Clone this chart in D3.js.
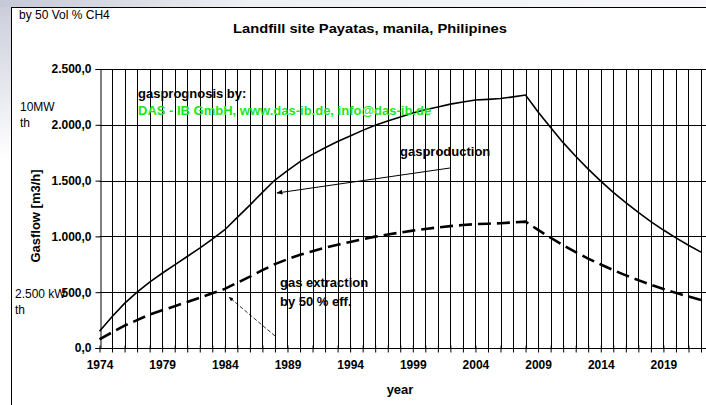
<!DOCTYPE html>
<html><head><meta charset="utf-8">
<script src="https://cdn.jsdelivr.net/npm/d3@7"></script>
<style>body{margin:0;background:#fff;}svg{display:block;font-family:"Liberation Sans",Arial,sans-serif;}</style>
</head><body>
<svg id="c" width="706" height="405"></svg>
<script>
const years = d3.range(1974, 2023);
const gasproduction = [150,280,400,500,590,670,745,820,895,975,
  1060,1170,1280,1395,1505,1590,1670,1735,1795,1850,
  1900,1950,1995,2035,2070,2105,2135,2160,2185,2205,
  2222,2228,2235,2250,2267,2115,1975,1840,1718,1603,
  1495,1395,1302,1215,1133,1057,987,921,859];
const gasextraction = [78,140,200,250,300,338,375,412,450,490,
  530,585,640,697,752,795,835,868,898,925,
  950,975,998,1017,1035,1052,1067,1080,1092,1102,
  1110,1114,1118,1125,1132,1058,988,920,859,801,
  748,698,651,608,567,529,494,461,430];
const yTicks = [0,500,1000,1500,2000,2500];
const xLabelYears = [1974,1979,1984,1989,1994,1999,2004,2009,2014,2019];

const svg = d3.select("#c");
// background watermark hints
const defs = svg.append("defs");
const g1 = defs.append("linearGradient").attr("id","wm").attr("x1",0).attr("y1",0).attr("x2",0).attr("y2",1);
g1.append("stop").attr("offset","0").attr("stop-color","#c9ccd9");
g1.append("stop").attr("offset","1").attr("stop-color","#ffffff");
svg.append("rect").attr("x",0).attr("y",0).attr("width",12).attr("height",160).attr("fill","url(#wm)");
const g2 = defs.append("linearGradient").attr("id","wm2").attr("x1",0).attr("y1",0).attr("x2",1).attr("y2",0);
g2.append("stop").attr("offset","0").attr("stop-color","#c5c8d6");
g2.append("stop").attr("offset","0.35").attr("stop-color","#eef0f4");
g2.append("stop").attr("offset","1").attr("stop-color","#f8f8fa");
svg.append("rect").attr("x",0).attr("y",0).attr("width",706).attr("height",7).attr("fill","url(#wm2)");
defs.append("marker").attr("id","ah").attr("viewBox","0 0 10 10").attr("refX",9).attr("refY",5)
  .attr("markerWidth",6).attr("markerHeight",6).attr("orient","auto")
  .append("path").attr("d","M0,1 L10,5 L0,9 z").attr("fill","#000");

// frame
svg.append("rect").attr("x",11.5).attr("y",7.5).attr("width",720).attr("height",420)
  .attr("fill","#fff").attr("stroke","#000").attr("stroke-width",1);

const x = d3.scaleLinear().domain([1974, 2022]).range([99.5, 701]);
const y = d3.scaleLinear().domain([0, 2500]).range([348, 69]);
const xRight = 706;

// vertical grid
svg.append("g").selectAll("line").data(years.slice(1)).join("line")
  .attr("x1", d => Math.round(x(d)) + 0.5).attr("x2", d => Math.round(x(d)) + 0.5)
  .attr("y1", y(2500)).attr("y2", y(0)).attr("stroke", "#000").attr("stroke-width", 1);
// horizontal grid
svg.append("g").selectAll("line").data(yTicks).join("line")
  .attr("x1", x(1974)).attr("x2", xRight)
  .attr("y1", d => Math.round(y(d)) + 0.5).attr("y2", d => Math.round(y(d)) + 0.5)
  .attr("stroke", "#000").attr("stroke-width", 1);

const loc = d3.formatLocale({decimal:",", thousands:".", grouping:[3], currency:["",""]});
const fmt = loc.format(",.1f");

// y axis
const ya = svg.append("g").attr("transform", `translate(${Math.round(x(1974))+0.5},0)`)
  .call(d3.axisLeft(y).tickValues(yTicks).tickFormat(fmt).tickSize(5).tickPadding(4));
ya.select(".domain").attr("stroke","#000");
ya.selectAll("text").attr("font-size", 12).attr("font-weight","bold").attr("fill","#000")
  .attr("font-family","Liberation Sans, Arial, sans-serif");

// x axis
const xa = svg.append("g").attr("transform", `translate(0,${Math.round(y(0))+0.5})`)
  .call(d3.axisBottom(x).tickValues(years).tickFormat(d => xLabelYears.includes(d) ? d : "").tickSize(4).tickPadding(8));
xa.select(".domain").attr("stroke","#000").attr("d", `M${x(1974)},0H${xRight}`);
xa.selectAll(".tick line").attr("y1",-3).attr("y2",4);
xa.selectAll("text").attr("font-size", 12).attr("font-weight","bold").attr("fill","#000")
  .attr("font-family","Liberation Sans, Arial, sans-serif");

// lines
const line = d3.line().x((d,i) => x(years[i])).y(d => y(d));
svg.append("path").datum(gasproduction).attr("d", line).attr("fill","none")
  .attr("stroke","#000").attr("stroke-width",1.6);
svg.append("path").datum(gasextraction).attr("d", line).attr("fill","none")
  .attr("stroke","#000").attr("stroke-width",2.6).attr("stroke-dasharray","13,6");

// texts
const T = (tx, ty, s, o) => {
  const t = svg.append("text").attr("x", tx).attr("y", ty).text(s)
    .attr("font-size", o.size || 11).attr("font-weight", o.bold ? "bold" : "normal")
    .attr("fill", o.fill || "#000").attr("text-anchor", o.anchor || "start");
  if (o.len) t.attr("textLength", o.len).attr("lengthAdjust", "spacingAndGlyphs");
  if (o.rotate) t.attr("transform", `rotate(-90,${tx},${ty})`);
  return t;
};
T(19, 19, "by 50 Vol % CH4", {size: 12});
T(370, 33, "Landfill site Payatas, manila, Philipines", {size: 13.5, bold: true, anchor: "middle", len: 274});
T(20, 111, "10MW", {size: 12});
T(20, 127, "th", {size: 12});
T(15, 298, "2.500 kW", {size: 12});
T(15, 314, "th", {size: 12});
T(40, 216, "Gasflow [m3/h]", {size: 13, bold: true, anchor: "middle", rotate: true});
T(400, 394, "year", {size: 13, bold: true, anchor: "middle"});
T(138, 98, "gasprognosis by:", {size: 13, bold: true});
T(138, 115, "DAS - IB GmbH, www.das-ib.de, info@das-ib.de", {size: 13, bold: true, fill: "#19e619"});
T(400, 156, "gasproduction", {size: 13, bold: true});
T(280, 287, "gas extraction", {size: 13, bold: true});
T(280, 306, "by 50 % eff.", {size: 13, bold: true});

// arrows
svg.append("line").attr("x1",450).attr("y1",168).attr("x2",277).attr("y2",193)
  .attr("stroke","#000").attr("stroke-width",1).attr("marker-end","url(#ah)");
svg.append("line").attr("x1",275).attr("y1",336).attr("x2",229).attr("y2",297)
  .attr("stroke","#000").attr("stroke-width",0.8).attr("stroke-dasharray","4,2").attr("marker-end","url(#ah)");
</script>
</body></html>
